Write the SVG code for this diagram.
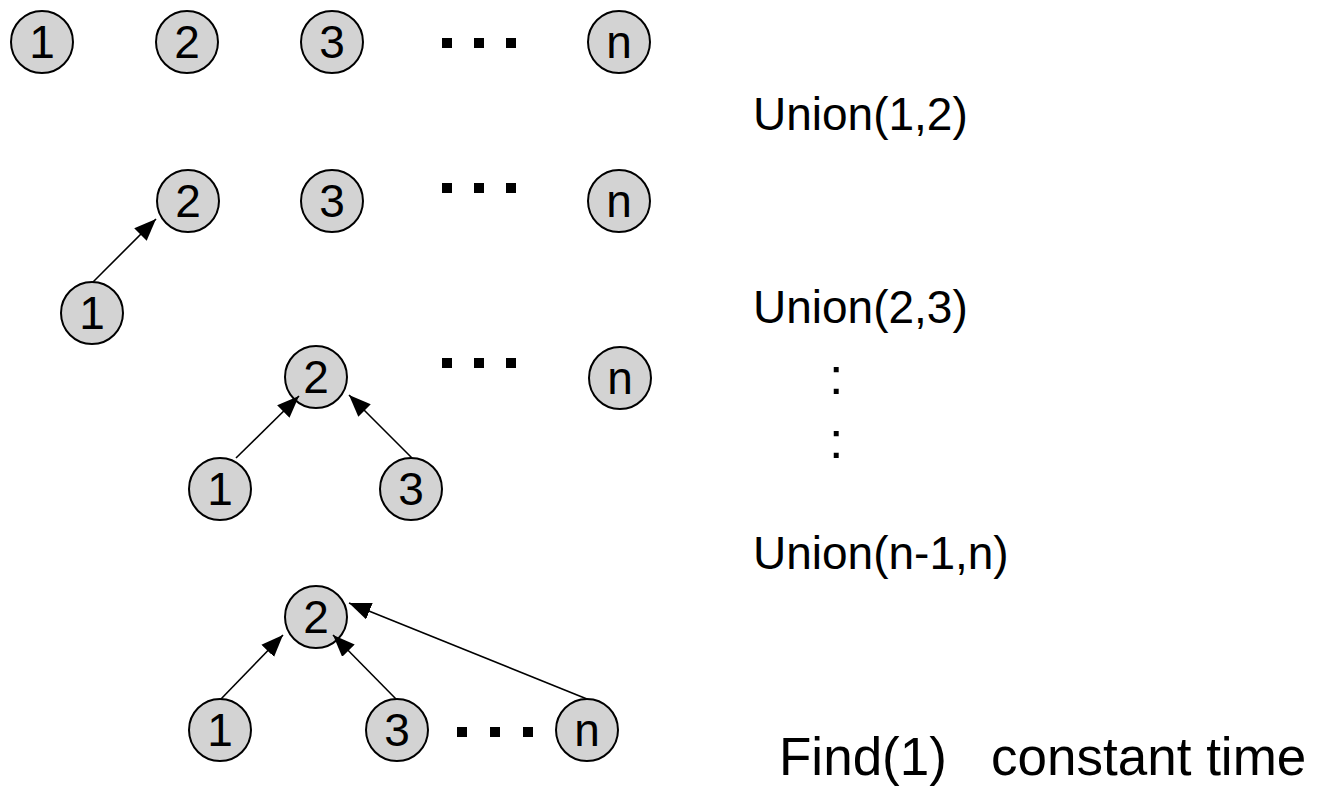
<svg xmlns="http://www.w3.org/2000/svg" width="1324" height="788" viewBox="0 0 1324 788">
<style>
.node circle{fill:#d3d3d3;stroke:#000;stroke-width:2}
.node text{font-family:"Liberation Sans",Arial,sans-serif;font-size:46px;fill:#000;text-anchor:middle}
.lbl{font-family:"Liberation Sans",Arial,sans-serif;font-size:46px;fill:#000}
.dot{fill:#000}
#connectors line{stroke:#000;stroke-width:1.6;marker-end:url(#arr)}
</style>
<defs>
<marker id="arr" markerUnits="userSpaceOnUse" markerWidth="22" markerHeight="18" refX="20" refY="8" orient="auto" viewBox="0 0 20 16">
<path d="M0,0 L20,8 L0,16 z" fill="#000"/>
</marker>
</defs>
<rect width="1324" height="788" fill="#fff"/>

<!-- Row 1 -->
<g id="r1n1" class="node"><circle cx="42" cy="42" r="31"/><text x="42" y="58">1</text></g>
<g id="r1n2" class="node"><circle cx="187" cy="42" r="31"/><text x="187" y="58">2</text></g>
<g id="r1n3" class="node"><circle cx="332" cy="42" r="31"/><text x="332" y="58">3</text></g>
<g id="r1dots"><rect class="dot" x="442" y="38" width="10" height="10"/><rect class="dot" x="474" y="38" width="10" height="10"/><rect class="dot" x="506" y="38" width="10" height="10"/></g>
<g id="r1nn" class="node"><circle cx="619" cy="42" r="31"/><text x="619" y="58">n</text></g>

<!-- Row 2 -->
<g id="r2n2" class="node"><circle cx="188" cy="201" r="31"/><text x="188" y="217">2</text></g>
<g id="r2n3" class="node"><circle cx="332" cy="201" r="31"/><text x="332" y="217">3</text></g>
<g id="r2dots"><rect class="dot" x="442" y="183" width="10" height="10"/><rect class="dot" x="474" y="183" width="10" height="10"/><rect class="dot" x="506" y="183" width="10" height="10"/></g>
<g id="r2nn" class="node"><circle cx="619" cy="201" r="31"/><text x="619" y="217">n</text></g>
<g id="r2n1" class="node"><circle cx="92" cy="313" r="31"/><text x="92" y="329">1</text></g>

<!-- Row 3 -->
<g id="r3n2" class="node"><circle cx="316" cy="377" r="31"/><text x="316" y="393">2</text></g>
<g id="r3dots"><rect class="dot" x="442" y="358" width="10" height="10"/><rect class="dot" x="474" y="358" width="10" height="10"/><rect class="dot" x="506" y="358" width="10" height="10"/></g>
<g id="r3nn" class="node"><circle cx="620" cy="378" r="31"/><text x="620" y="394">n</text></g>
<g id="r3n1" class="node"><circle cx="220" cy="489" r="31"/><text x="220" y="505">1</text></g>
<g id="r3n3" class="node"><circle cx="411" cy="489" r="31"/><text x="411" y="505">3</text></g>

<!-- Row 4 -->
<g id="r4n2" class="node"><circle cx="316" cy="617" r="31"/><text x="316" y="633">2</text></g>
<g id="r4n1" class="node"><circle cx="220" cy="730" r="31"/><text x="220" y="746">1</text></g>
<g id="r4n3" class="node"><circle cx="397" cy="730" r="31"/><text x="397" y="746">3</text></g>
<g id="r4dots"><rect class="dot" x="457" y="727" width="10" height="10"/><rect class="dot" x="490" y="727" width="10" height="10"/><rect class="dot" x="523" y="727" width="10" height="10"/></g>
<g id="r4nn" class="node"><circle cx="587" cy="730" r="31"/><text x="587" y="746">n</text></g>

<g id="connectors">
<line x1="93" y1="282" x2="156" y2="219"/>
<line x1="236" y1="458" x2="299" y2="396"/>
<line x1="412" y1="458" x2="349" y2="395"/>
<line x1="221" y1="699" x2="283" y2="635"/>
<line x1="396" y1="699" x2="333" y2="635"/>
<line x1="587" y1="699" x2="349" y2="603"/>
</g>

<g id="labels">
<text class="lbl" x="753" y="130">Union(1,2)</text>
<text class="lbl" x="753" y="323">Union(2,3)</text>
<text class="lbl" x="829" y="394" style="font-size:52px">:</text>
<text class="lbl" x="829" y="458" style="font-size:52px">:</text>
<text class="lbl" x="753" y="569">Union(n-1,n)</text>
<text class="lbl" x="779" y="775" style="font-size:53px" xml:space="preserve">Find(1)   constant time</text>
</g>
</svg>
